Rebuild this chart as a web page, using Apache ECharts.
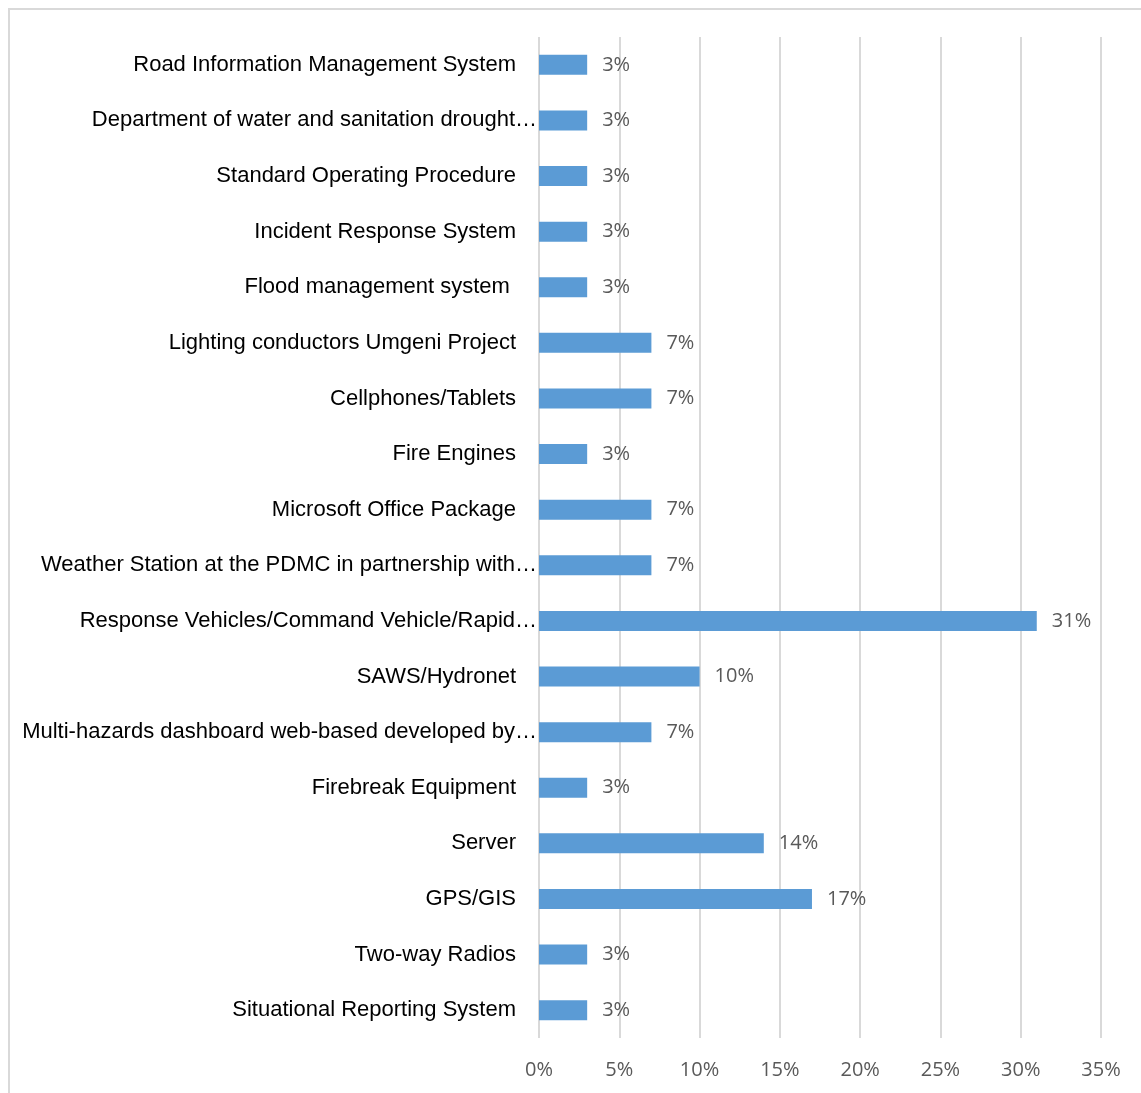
<!DOCTYPE html>
<html>
<head>
<meta charset="utf-8">
<script src="https://cdn.jsdelivr.net/npm/echarts@6/dist/echarts.min.js"></script>
<style>
  html, body { margin: 0; padding: 0; background: #fff; }
  #chart { width: 1141px; height: 1093px; }
</style>
</head>
<body>
<div id="chart"></div>
<script>
// Categories, listed top to bottom
const categories = [
  'Road Information Management System',
  'Department of water and sanitation drought…',
  'Standard Operating Procedure',
  'Incident Response System',
  'Flood management system ',
  'Lighting conductors Umgeni Project',
  'Cellphones/Tablets',
  'Fire Engines',
  'Microsoft Office Package',
  'Weather Station at the PDMC in partnership with…',
  'Response Vehicles/Command Vehicle/Rapid…',
  'SAWS/Hydronet',
  'Multi-hazards dashboard web-based developed by…',
  'Firebreak Equipment',
  'Server',
  'GPS/GIS',
  'Two-way Radios',
  'Situational Reporting System'
];

// Share of responses (%)
const shares = [3, 3, 3, 3, 3, 7, 7, 3, 7, 7, 31, 10, 7, 3, 14, 17, 3, 3];

// Percentage axis ticks
const axisMin = 0;
const axisMax = 35;
const axisStep = 5;

const chart = echarts.init(document.getElementById('chart'));

chart.setOption({
  backgroundColor: '#ffffff',
  animation: false,
  graphic: [{
    type: 'rect',
    shape: { x: 9, y: 9, width: 1300, height: 1300 },
    style: { fill: 'none', stroke: '#d9d9d9', lineWidth: 2 },
    silent: true
  }],
  grid: {
    left: 539, right: 40, top: 37, bottom: 55,
    containLabel: false,
    outerBoundsMode: 'none'
  },
  xAxis: {
    type: 'value',
    min: axisMin,
    max: axisMax,
    interval: axisStep,
    axisLine: { show: false },
    axisTick: { show: false },
    splitLine: { show: true, lineStyle: { color: '#d9d9d9', width: 2 } },
    axisLabel: {
      formatter: v => v + '%',
      color: '#595959',
      fontFamily: '"Open Sans", sans-serif',
      fontSize: 20,
      margin: 22
    }
  },
  yAxis: {
    type: 'category',
    inverse: true,
    data: categories,
    axisLine: { show: false },
    axisTick: { show: false },
    splitLine: { show: false },
    axisLabel: {
      margin: 2,
      color: '#000000',
      fontFamily: '"Liberation Sans Narrow", "Arial Narrow", "Liberation Sans", sans-serif',
      fontSize: 22,
      // full names are right-aligned a little in from the axis; shortened ones run up to it
      formatter: v => v.endsWith('…') ? v : v + '{gap|}',
      rich: { gap: { width: 21 } }
    }
  },
  series: [{
    type: 'bar',
    data: shares,
    barWidth: 20,
    itemStyle: { color: '#5b9bd5' },
    label: {
      show: true,
      position: 'right',
      distance: 15,
      formatter: p => p.value + '%',
      color: '#595959',
      fontFamily: '"Open Sans", sans-serif',
      fontSize: 20
    }
  }]
});
</script>
</body>
</html>
